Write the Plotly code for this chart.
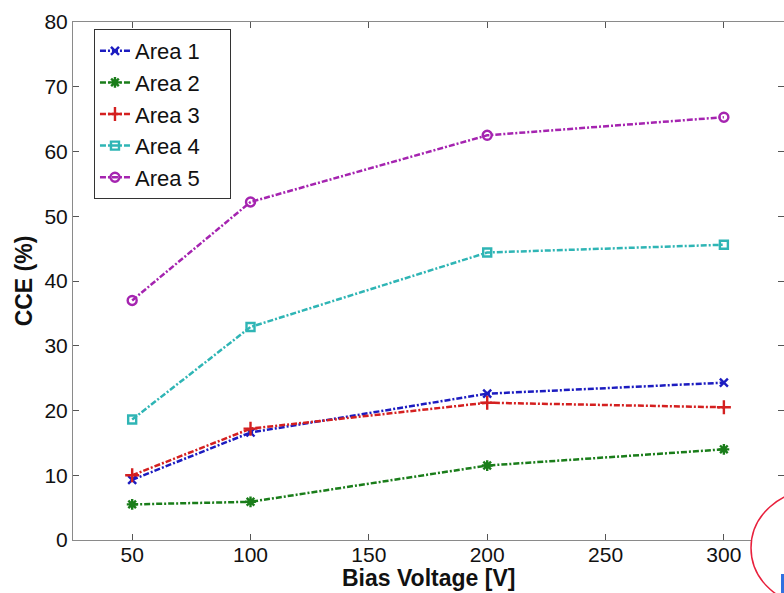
import plotly.graph_objects as go

voltages = [50, 100, 200, 300]
area1 = [9.3, 16.6, 22.6, 24.3]
area2 = [5.5, 5.9, 11.5, 14.0]
area3 = [10.0, 17.2, 21.2, 20.5]
area4 = [18.6, 32.9, 44.4, 45.6]
area5 = [37.0, 52.2, 62.5, 65.3]
names = ["Area 1", "Area 2", "Area 3", "Area 4", "Area 5"]
x_ticks = [50, 100, 150, 200, 250, 300]
y_ticks = [0, 10, 20, 30, 40, 50, 60, 70, 80]
x_title = "Bias Voltage [V]"
y_title = "CCE (%)"

series = [area1, area2, area3, area4, area5]
colors = ["#1c1cc0", "#1a7d1a", "#d42020", "#2fb5b5", "#a524b0"]
symbols = ["x-thin-open", "asterisk-open", "cross-thin-open", "square-open", "circle-open"]
sizes = [8, 9, 10, 8, 9]

FONT = "Liberation Sans, Arial, sans-serif"
PAD = "\u00a0" * 4

fig = go.Figure()
for i, (nm, ys) in enumerate(zip(names, series)):
    fig.add_trace(go.Scatter(
        x=voltages, y=ys, name=nm + PAD, mode="lines+markers",
        legendgroup=nm,
        line=dict(color=colors[i], width=2.5, dash="6px,2px,2px,2px"),
        marker=dict(symbol=symbols[i], size=sizes[i], color=colors[i],
                    line=dict(color=colors[i], width=2.4)),
        cliponaxis=False,
    ))

axis_common = dict(
    showgrid=False, zeroline=False, showline=True, linecolor="#8a8a8a", linewidth=1,
    mirror="ticks", ticks="inside", ticklen=6, tickcolor="#555555", tickwidth=1,
    tickfont=dict(family=FONT, size=21, color="#111111"),
)

fig.update_layout(
    width=784, height=593,
    margin=dict(l=73, r=0, t=22, b=53, pad=0),
    paper_bgcolor="white", plot_bgcolor="white",
    font=dict(family=FONT, color="#111111"),
    xaxis=dict(range=[25, 325.4], tickvals=x_ticks, ticklabelstandoff=-4,
               **axis_common),
    yaxis=dict(range=[0, 80], tickvals=y_ticks,
               title=dict(text="<b>" + y_title + "</b>", font=dict(family=FONT, size=23), standoff=5),
               **axis_common),
    showlegend=True,
    legend=dict(x=0.0295, y=0.9865, xanchor="left", yanchor="top",
                bgcolor="white", bordercolor="#333333", borderwidth=1,
                font=dict(family=FONT, size=22, color="#111111"),
                tracegroupgap=0, itemwidth=30),
    annotations=[
        dict(text="<b>" + x_title + "</b>", xref="paper", yref="paper",
             x=0.5, y=-0.1023, xanchor="center", yanchor="bottom", showarrow=False,
             font=dict(family=FONT, size=23, color="#111111")),
    ],
    shapes=[
        dict(type="circle", xref="paper", yref="paper",
             x0=0.9536, x1=1.134, y0=-0.1274, y1=0.0965,
             line=dict(color="#e8203c", width=1.5), fillcolor="white", layer="above"),
        dict(type="rect", xref="paper", yref="paper",
             x0=0.9958, x1=1.0, y0=-0.1023, y1=-0.0656,
             line=dict(width=0), fillcolor="#3070e0", layer="above"),
    ],
)

fig.write_html("out.html")
